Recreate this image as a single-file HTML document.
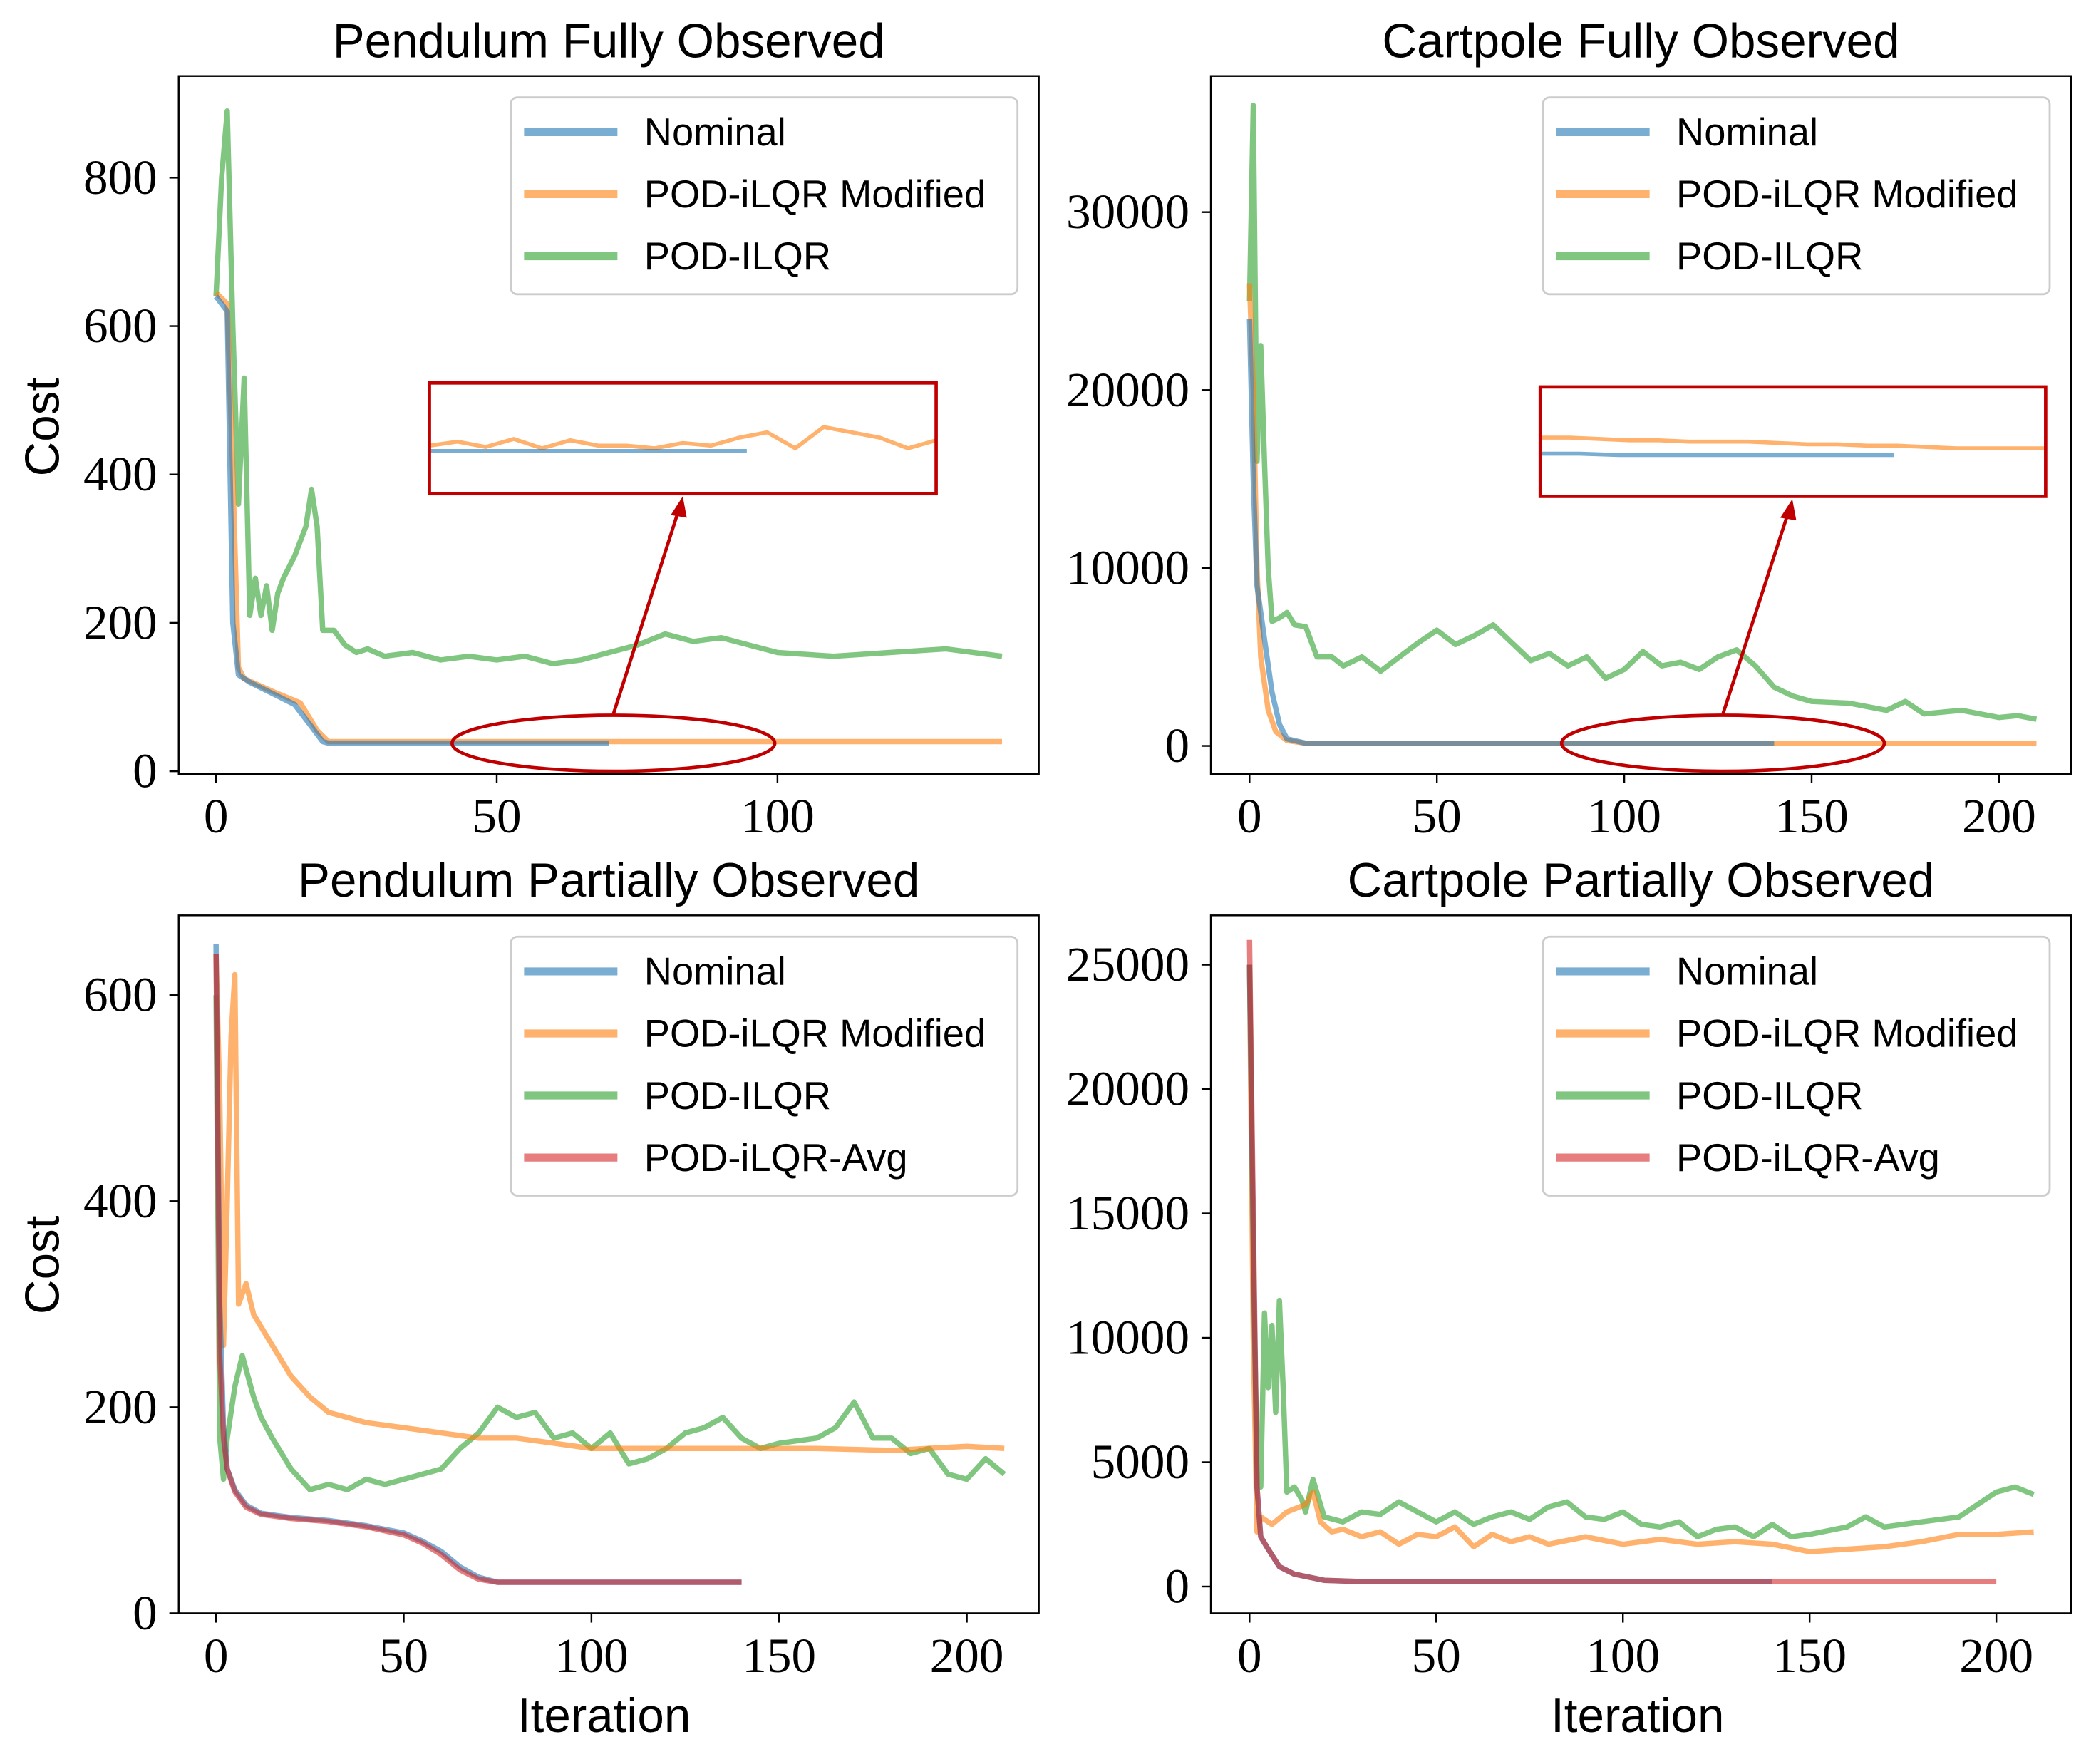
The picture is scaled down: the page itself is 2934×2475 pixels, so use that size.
<!DOCTYPE html>
<html><head><meta charset="utf-8"><style>
html,body{margin:0;padding:0;background:#fff;}
svg{display:block;}
.tick{font-family:"Liberation Serif",serif;font-size:37px;fill:#000;}
.title{font-family:"Liberation Sans",sans-serif;font-size:36px;fill:#000;}
.leg{font-family:"Liberation Sans",sans-serif;font-size:29px;fill:#000;}
</style></head><body>
<svg id="fig" width="2934" height="2475" viewBox="0 0 1568 1322" preserveAspectRatio="none" xmlns="http://www.w3.org/2000/svg"></svg>
<script>
// ---- Panel 1: Pendulum Fully Observed ----
const p1NomX=[0,1,2,3,4,6,10,14,17,19,20,70];
const p1NomY=[640,630,620,200,130,120,105,90,60,40,38,38];
const p1OrgX=[0,2,3,4,5,10,15,18,20,140];
const p1OrgY=[645,630,400,140,125,108,92,55,40,40];
const p1GrnX=[0,1,2,3,4,5,6,7,8,9,10,11,12,14,16,17,18,19,21,23,25,27,30,35,40,45,50,55,60,65,70,75,80,85,90,95,100,110,120,130,140];
const p1GrnY=[640,800,890,600,360,530,210,260,210,250,190,240,260,290,330,380,330,190,190,170,160,165,155,160,150,155,150,155,145,150,160,170,185,175,180,170,160,155,160,165,155];
const p1YTicks=[0,200,400,600,800];
const p1XTicks=[0,50,100];
// ---- Panel 2: Cartpole Fully Observed ----
const p2NomX=[0,1,2,4,6,8,10,15,140];
const p2NomY=[24000,15000,9000,6000,3000,1200,400,150,150];
const p2OrgX=[0,1,2,3,5,7,10,15,210];
const p2OrgY=[26000,20000,10000,5000,2000,800,300,150,150];
const p2GrnX=[0,1,2,3,4,5,6,8,10,12,15,18,22,25,30,35,40,45,50,55,60,65,70,75,80,85,90,95,100,105,110,115,120,125,130,135,140,145,150,160,170,175,180,190,200,205,210];
const p2GrnY=[25000,36000,16000,22500,16000,10000,7000,7200,7500,6800,6700,5000,5000,4500,5000,4200,5000,5800,6500,5700,6200,6800,5800,4800,5200,4500,5000,3800,4300,5300,4500,4700,4300,5000,5400,4500,3300,2800,2500,2400,2000,2500,1800,2000,1600,1700,1500];
const p2YTicks=[0,10000,20000,30000];
const p2XTicks=[0,50,100,150,200];
// ---- Panel 3: Pendulum Partially Observed ----
const p3NomX=[0,1,2,3,5,8,12,20,30,40,50,55,60,65,70,75,140];
const p3NomY=[650,300,180,140,120,105,97,93,90,85,78,70,60,45,35,30,30];
const p3RedX=[0,1,2,3,5,8,12,20,30,40,50,55,60,65,70,75,140];
const p3RedY=[640,250,170,140,118,103,96,92,89,84,76,68,57,42,33,30,30];
const p3OrgX=[0,1,2,3,4,5,6,8,10,15,20,25,30,40,50,60,70,80,90,100,120,140,160,180,200,210];
const p3OrgY=[640,500,260,400,560,620,300,320,290,260,230,210,195,185,180,175,170,170,165,160,160,160,160,158,162,160];
const p3GrnX=[0,1,2,3,5,7,10,12,15,20,25,30,35,40,45,50,55,60,65,70,75,80,85,90,95,100,105,110,115,120,125,130,135,140,145,150,160,165,170,175,180,185,190,195,200,205,210];
const p3GrnY=[600,170,130,170,220,250,210,190,170,140,120,125,120,130,125,130,135,140,160,175,200,190,195,170,175,160,175,145,150,160,175,180,190,170,160,165,170,180,205,170,170,155,160,135,130,150,135];
const p3YTicks=[0,200,400,600];
const p3XTicks=[0,50,100,150,200];
// ---- Panel 4: Cartpole Partially Observed ----
const p4NomX=[0,1,2,3,5,8,12,20,30,140];
const p4NomY=[25000,14000,4000,2000,1500,800,500,250,200,200];
const p4RedX=[0,1,2,3,5,8,12,20,30,200];
const p4RedY=[26000,15000,4000,2000,1500,800,500,250,200,200];
const p4OrgX=[0,1,2,3,6,10,15,17,19,22,25,30,35,40,45,50,55,60,65,70,75,80,90,100,110,120,130,140,150,160,170,180,190,200,210];
const p4OrgY=[25000,10000,2200,2800,2500,3000,3300,3800,2600,2200,2300,2000,2200,1700,2100,2000,2400,1600,2100,1800,2000,1700,2000,1700,1900,1700,1800,1700,1400,1500,1600,1800,2100,2100,2200];
const p4GrnX=[0,1,2,3,4,5,6,7,8,9,10,12,14,15,17,18,20,25,30,35,40,45,50,55,60,65,70,75,80,85,90,95,100,105,110,115,120,125,130,135,140,145,150,160,165,170,180,190,200,205,210];
const p4GrnY=[25000,13000,5000,4000,11000,8000,10500,7000,11500,8000,3800,4000,3500,3000,4300,3800,2800,2600,3000,2900,3400,3000,2600,3000,2500,2800,3000,2700,3200,3400,2800,2700,3000,2500,2400,2600,2000,2300,2400,2000,2500,2000,2100,2400,2800,2400,2600,2800,3800,4000,3700];
const p4YTicks=[0,5000,10000,15000,20000,25000];
const p4XTicks=[0,50,100,150,200];
// inset zoom values (relative offsets)
const in1OrgY=[0,-3,1,-5,2,-4,0,0,2,-2,0,-6,-10,2,-14,-10,-6,2,-4];
const in1NomY=[0,0,0,0,0,0,0,0,0,0,0];
const in2OrgY=[-8,-8,-7,-6,-6,-5,-5,-5,-4,-3,-3,-2,-2,-1,0,0,0,0];
const in2NomY=[0,0,1,1,1,1,1,1,1,1];

const NS="http://www.w3.org/2000/svg";
const fig=document.getElementById('fig');
function mk(tag,attrs,parent){const e=document.createElementNS(NS,tag);for(const k in attrs)e.setAttribute(k,attrs[k]);(parent||fig).appendChild(e);return e;}
const COL={blue:'rgba(31,119,180,0.6)',orange:'rgba(255,127,14,0.6)',green:'rgba(44,160,44,0.6)',red:'rgba(214,39,40,0.6)'};

function panel(cfg){
  const g=mk('g',{});
  
  
  const sx=v=>cfg.x0+v*cfg.kx, sy=v=>cfg.y0-v*cfg.ky;
  // series
  cfg.series.forEach(s=>{
    const pts=s.x.map((v,i)=>sx(v).toFixed(1)+','+sy(s.y[i]).toFixed(1)).join(' ');
    const pl=mk('polyline',{points:pts,fill:'none',stroke:COL[s.c],'stroke-width':4,'stroke-linejoin':'round'},g);
    
    
  });
  // frame
  const fr=mk('rect',{x:cfg.bx,y:cfg.by,width:cfg.bw,height:cfg.bh,fill:'none',stroke:'#000','stroke-width':1.3},g);
  
  
  cfg.yt.forEach(v=>{
    const y=sy(v);
    mk('line',{x1:cfg.bx-7,x2:cfg.bx,y1:y,y2:y,stroke:'#000','stroke-width':1.3},g);
    const t=mk('text',{x:cfg.bx-16,y:y+12,'text-anchor':'end',class:'tick'},g);
    t.textContent=v;
    
    
  });
  cfg.xt.forEach(v=>{
    const x=sx(v);
    mk('line',{x1:x,x2:x,y1:cfg.by+cfg.bh,y2:cfg.by+cfg.bh+7,stroke:'#000','stroke-width':1.3},g);
    const t=mk('text',{x:x,y:cfg.by+cfg.bh+44,'text-anchor':'middle',class:'tick'},g);
    t.textContent=v;
    
    
  });
  const tt=mk('text',{x:cfg.bx+cfg.bw/2,y:cfg.by-14,'text-anchor':'middle',class:'title'},g);
  tt.textContent=cfg.title;
  
  
  // legend
  const lx=cfg.bx+249, ly=cfg.by+16, n=cfg.legend.length;
  const lg=mk('g',{},g);
  
  
  mk('rect',{x:lx,y:ly,width:380,height:n*46.5+8,rx:5,fill:'#fff','fill-opacity':0.8,stroke:'#ccc','stroke-width':1.5},lg);
  cfg.legend.forEach((L,i)=>{
    const y=ly+26+i*46.5;
    const ln=mk('line',{x1:lx+10,x2:lx+80,y1:y,y2:y,stroke:COL[L.c],'stroke-width':6},lg);
    
    
    const t=mk('text',{x:lx+100,y:y+10,class:'leg'},lg);
    t.textContent=L.t;
    
    
  });
  return g;
}
const L3=[{c:'blue',t:'Nominal'},{c:'orange',t:'POD-iLQR Modified'},{c:'green',t:'POD-ILQR'}];
const L4=L3.concat([{c:'red',t:'POD-iLQR-Avg'}]);

panel({name:'pendulum-fully-panel',bx:134,by:57,bw:645,bh:523,x0:162,y0:578,kx:4.21,ky:0.556,yt:p1YTicks,xt:p1XTicks,title:'Pendulum Fully Observed',legend:L3,
 series:[{x:p1GrnX,y:p1GrnY,c:'green',n:'pod-ilqr-line'},{x:p1OrgX,y:p1OrgY,c:'orange',n:'pod-ilqr-modified-line'},{x:p1NomX,y:p1NomY,c:'blue',n:'nominal-line'}]});
panel({name:'cartpole-fully-panel',bx:908,by:57,bw:645,bh:523,x0:937,y0:559,kx:2.81,ky:400/30000,yt:p2YTicks,xt:p2XTicks,title:'Cartpole Fully Observed',legend:L3,
 series:[{x:p2GrnX,y:p2GrnY,c:'green',n:'pod-ilqr-line'},{x:p2OrgX,y:p2OrgY,c:'orange',n:'pod-ilqr-modified-line'},{x:p2NomX,y:p2NomY,c:'blue',n:'nominal-line'}]});
panel({name:'pendulum-partially-panel',bx:134,by:686,bw:645,bh:523,x0:162,y0:1209,kx:2.815,ky:0.772,yt:p3YTicks,xt:p3XTicks,title:'Pendulum Partially Observed',legend:L4,
 series:[{x:p3GrnX,y:p3GrnY,c:'green',n:'pod-ilqr-line'},{x:p3OrgX,y:p3OrgY,c:'orange',n:'pod-ilqr-modified-line'},{x:p3NomX,y:p3NomY,c:'blue',n:'nominal-line'},{x:p3RedX,y:p3RedY,c:'red',n:'pod-ilqr-avg-line'}]});
panel({name:'cartpole-partially-panel',bx:908,by:686,bw:645,bh:523,x0:937,y0:1189,kx:2.8,ky:466/25000,yt:p4YTicks,xt:p4XTicks,title:'Cartpole Partially Observed',legend:L4,
 series:[{x:p4GrnX,y:p4GrnY,c:'green',n:'pod-ilqr-line'},{x:p4OrgX,y:p4OrgY,c:'orange',n:'pod-ilqr-modified-line'},{x:p4NomX,y:p4NomY,c:'blue',n:'nominal-line'},{x:p4RedX,y:p4RedY,c:'red',n:'pod-ilqr-avg-line'}]});

// axis labels
[[320],[948]].forEach(([cy])=>{
  const t=mk('text',{x:0,y:0,transform:`translate(44,${cy}) rotate(-90)`,'text-anchor':'middle',class:'title'});
  t.textContent='Cost';
  
  
});
[453,1228].forEach(cx=>{
  const t=mk('text',{x:cx,y:1298,'text-anchor':'middle',class:'title'});
  t.textContent='Iteration';
  
  
});

// zoom insets
function inset(rx,ry,rw,rh,base,orgY,nomY,nomW,ecx,ecy){
  const g=mk('g',{});
  
  
  const stO=rw/(orgY.length-1);
  mk('polyline',{points:orgY.map((v,i)=>(rx+i*stO).toFixed(1)+','+(base+v)).join(' '),fill:'none',stroke:COL.orange,'stroke-width':3},g);
  const stN=nomW/(nomY.length-1);
  mk('polyline',{points:nomY.map((v,i)=>(rx+i*stN).toFixed(1)+','+(base+4+v)).join(' '),fill:'none',stroke:COL.blue,'stroke-width':3},g);
  mk('rect',{x:rx,y:ry,width:rw,height:rh,fill:'none',stroke:'#c00000','stroke-width':2.5},g);
  const el=mk('ellipse',{cx:ecx,cy:ecy,rx:121,ry:21,fill:'none',stroke:'#c00000','stroke-width':2.5},g);
  
  
  const ax=ecx+52, ay=ry+rh;
  mk('line',{x1:ecx,y1:ecy-22,x2:ax-3,y2:ay+12,stroke:'#c00000','stroke-width':2.5},g);
  mk('polygon',{points:`${ax},${ay+2} ${ax-9},${ay+16} ${ax+3},${ay+18}`,fill:'#c00000'},g);
}
inset(322,287,380,83,334,in1OrgY,in1NomY,238,460,557);
inset(1155,290,379,82,336,in2OrgY,in2NomY,265,1292,557);
</script>
</body></html>
